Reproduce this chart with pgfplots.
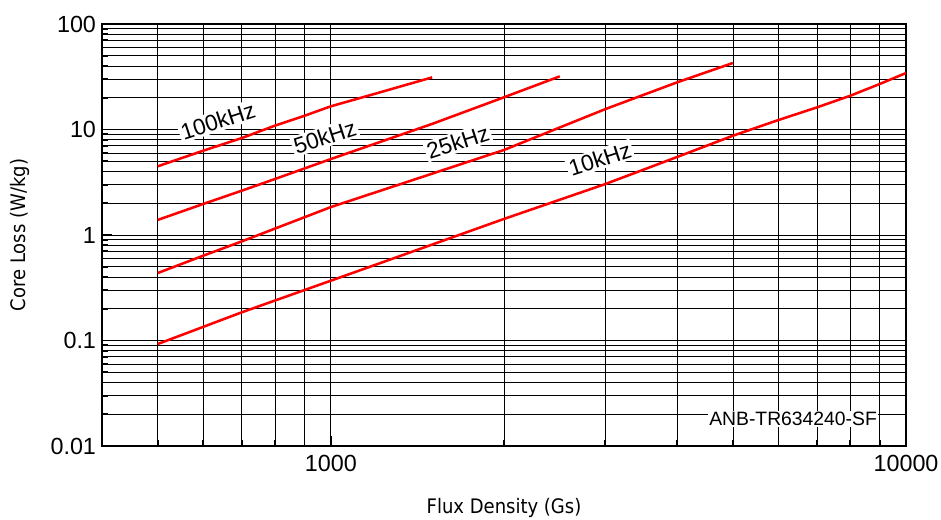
\documentclass[border=0pt]{standalone}
\usepackage{fontspec}
\setmainfont{Liberation Sans}
\newfontfamily\tahoma{DejaVu Sans Condensed}
\usepackage{pgfplots}
\pgfplotsset{compat=1.18}
\begin{document}
\begin{tikzpicture}
\begin{axis}[
  xmode=log, ymode=log,
  scale only axis, width=603pt, height=316.5pt,
  xmin=400, xmax=10000, ymin=0.01, ymax=100,
  xtick={1000,10000}, xticklabels={1000,10000},
  ytick={0.01,0.1,1,10,100}, yticklabels={0.01,0.1,1,10,100},
  minor xtick={400,500,600,700,800,900,2000,3000,4000,5000,6000,7000,8000,9000},
  minor ytick={0.02,0.03,0.04,0.05,0.06,0.07,0.08,0.09,0.2,0.3,0.4,0.5,0.6,0.7,0.8,0.9,2,3,4,5,6,7,8,9,20,30,40,50,60,70,80,90},
  grid=both,
  major grid style={black, line width=0.65pt},
  minor grid style={black, line width=0.55pt},
  tick align=inside, xtick pos=bottom, ytick pos=left,
  major tick length=7.5pt, minor tick length=4.5pt,
  every tick/.style={black, line width=1.3pt},
  axis line style={line width=1.3pt},
  ticklabel style={font=\fontsize{17.5}{19}\selectfont},
  xticklabel style={yshift=-3pt},
  yticklabel style={xshift=-1pt},
  xlabel={Flux Density (Gs)},
  ylabel={Core Loss (W/kg)},
  label style={font=\tahoma\fontsize{15}{17}\selectfont},
  xlabel style={at={(axis description cs:0.5,-0.147)}, anchor=center},
  ylabel style={at={(axis description cs:-0.102,0.5)}, anchor=center, rotate=0},
]
\coordinate (SW) at (rel axis cs:0,0);
\coordinate (NE) at (rel axis cs:1,1);
\addplot[red, line width=1.9pt] coordinates {(500,4.48) (600,6.3) (700,8.3) (800,10.9) (900,13.5) (1000,16.6) (1200,22.0) (1500,31.2)};
\addplot[red, line width=1.9pt] coordinates {(500,1.39) (600,1.97) (700,2.63) (800,3.40) (1000,5.25) (1500,11.3) (2000,20.2) (2500,31.9)};
\addplot[red, line width=1.9pt] coordinates {(500,0.436) (600,0.637) (700,0.87) (1000,1.84) (2000,6.4) (3000,15.6) (4000,28.0) (5000,42.7)};
\addplot[red, line width=1.9pt] coordinates {(500,0.0926) (700,0.185) (1000,0.369) (2000,1.42) (3000,3.04) (4000,5.49) (5000,8.73) (6000,12.3) (7000,16.2) (8000,20.9) (9000,27.0) (10000,34.3)};
\node[fill=white, rotate=18, inner sep=1.5pt, font=\fontsize{17}{19}\selectfont] at (axis cs:636,12.04) {100kHz};
\node[fill=white, rotate=18, inner sep=1.5pt, font=\fontsize{17}{19}\selectfont] at (axis cs:976,8.49) {50kHz};
\node[fill=white, rotate=18, inner sep=1.5pt, font=\fontsize{17}{19}\selectfont] at (axis cs:1663,7.61) {25kHz};
\node[fill=white, rotate=18, inner sep=1.5pt, font=\fontsize{17}{19}\selectfont] at (axis cs:2936,5.25) {10kHz};
\node[fill=white, inner sep=1pt, font=\fontsize{14.5}{16}\selectfont] at (axis cs:6363,0.018) {ANB-TR634240-SF};
\end{axis}
\pgfresetboundingbox
\path (SW) ++(-76.5pt,-55.5pt) coordinate (BL);
\path (NE) ++(26.25pt,18pt) coordinate (TR);
\useasboundingbox (BL) rectangle (TR);
\end{tikzpicture}
\end{document}
